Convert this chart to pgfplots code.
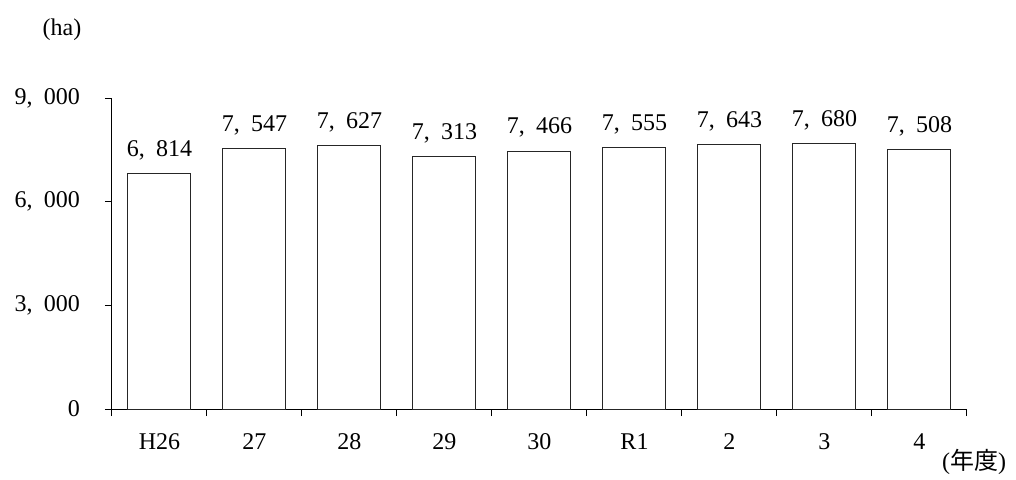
\documentclass[border=0pt]{standalone}
\usepackage{pgfplots}
\pgfplotsset{compat=1.18}
\usepackage{fontspec}
\setmainfont{Liberation Serif}
\newfontfamily\cjk{Noto Sans CJK JP}
% comma followed by a half-width space, as in the original
\newcommand\cm{\makebox[0.72em][l]{,}}
\begin{document}
\begin{tikzpicture}[font=\fontsize{12}{14}\selectfont]
\path[use as bounding box] (-56pt,-35pt) rectangle (452pt,204.5pt);
\begin{axis}[
    at={(0,0)}, anchor=south west,
    scale only axis, width=427.5pt, height=155.5pt,
    ybar, bar width=31.5pt,
    xmin=-0.5, xmax=8.5, ymin=0, ymax=9000,
    axis x line*=bottom, axis y line*=left,
    xtick={0,...,8}, xticklabels={H26,27,28,29,30,R1,2,3,4},
    minor xtick={-0.5,0.5,...,8.5},
    ytick={0,3000,6000,9000}, yticklabels={0,3\cm000,6\cm000,9\cm000},
    tick align=outside, major tick length=3.5pt, minor tick length=3.5pt,
    major x tick style={draw=none},
    tick style={black, line width=0.5pt},
    axis line style={black, line width=0.5pt},
    nodes near coords, point meta=explicit symbolic,
    every node near coord/.append style={yshift=3pt, text height=8pt, text depth=2pt},
    xticklabel style={yshift=-5pt, text height=8pt, text depth=0pt},
    yticklabel style={xshift=-9pt},
]
    \addplot[draw=black!85, fill=white, line width=0.5pt] coordinates {
        (0,6814) [6\cm814]
        (1,7547) [7\cm547]
        (2,7627) [7\cm627]
        (3,7313) [7\cm313]
        (4,7466) [7\cm466]
        (5,7555) [7\cm555]
        (6,7643) [7\cm643]
        (7,7680) [7\cm680]
        (8,7508) [7\cm508]
    };
\end{axis}
\node at (-25pt,189.5pt) {(ha)};
\node at (431pt,-26.5pt) {({\cjk 年度})};
\end{tikzpicture}
\end{document}
